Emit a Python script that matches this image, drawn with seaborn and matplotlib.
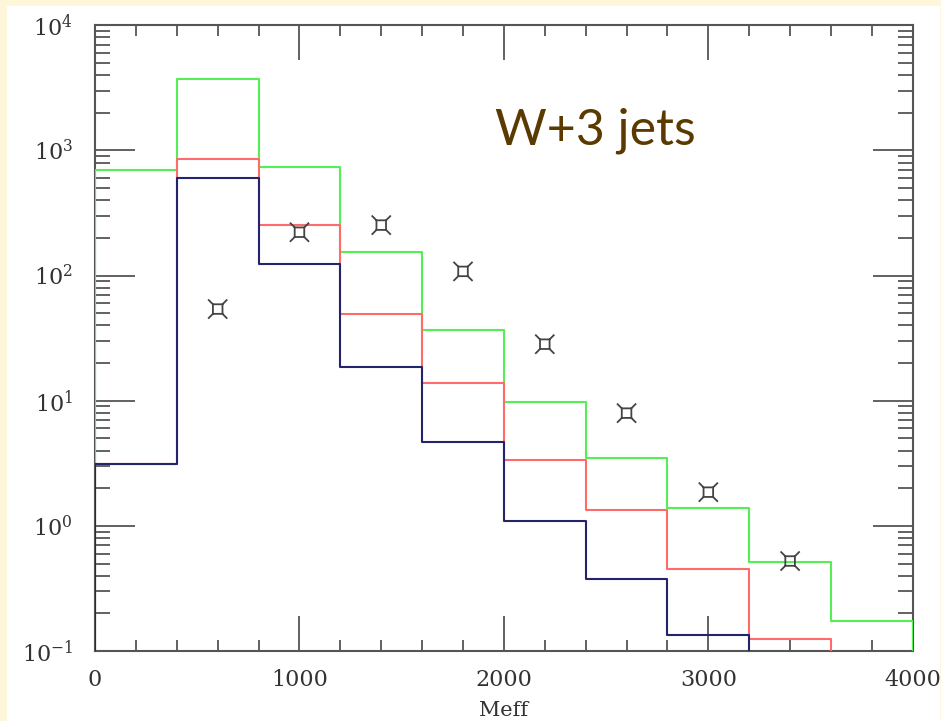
import matplotlib.pyplot as plt
import matplotlib.ticker as mticker
from matplotlib.path import Path
import seaborn as sns
import pandas as pd
import numpy as np

# bins of Meff (empty bins outside 0-4000 so the outer edges get drawn)
bin_edges = [-400, 0, 400, 800, 1200, 1600, 2000, 2400, 2800, 3200, 3600, 4000, 4400]
bin_centers = [-200, 200, 600, 1000, 1400, 1800, 2200, 2600, 3000, 3400, 3800, 4200]

green_vals = [0, 700, 3700, 735, 154, 36.6, 9.75, 3.48, 1.40, 0.516, 0.175, 0]
red_vals = [0, 3.15, 851, 253, 49.2, 13.8, 3.36, 1.34, 0.452, 0.125, 0, 0]
blue_vals = [0, 3.12, 600, 123, 18.5, 4.67, 1.09, 0.376, 0.134, 0, 0, 0]

data_x = [600, 1000, 1400, 1800, 2200, 2600, 3000, 3400]
data_y = [54, 222, 253, 108, 28.3, 7.96, 1.86, 0.524]

df = pd.DataFrame({"Meff": bin_centers, "green": green_vals,
                   "red": red_vals, "blue": blue_vals})
pts = pd.DataFrame({"Meff": data_x, "N": data_y})

sns.set_theme(style="ticks")
plt.rcParams["mathtext.fontset"] = "dejavuserif"

fig = plt.figure(figsize=(9.41, 7.21), dpi=100, facecolor="#fdf6d8")
fig.patches.append(plt.Rectangle((7 / 941, 0), 932 / 941, 715 / 721,
                                 transform=fig.transFigure, color="white", zorder=-1))
ax = fig.add_axes([0.101, 0.097, 0.869, 0.868])
ax.set_zorder(2)
ax.set_yscale("log")

for col, c in [("green", "#55ee55"), ("red", "#ff6a6a"), ("blue", "#23236e")]:
    sns.histplot(data=df, x="Meff", weights=col, bins=bin_edges, element="step",
                 fill=False, color=c, linewidth=1.5, ax=ax, zorder=3)

# square with corner spikes
verts = [(-0.5, -0.5), (0.5, -0.5), (0.5, 0.5), (-0.5, 0.5), (-0.5, -0.5),
         (-0.5, -0.5), (-1, -1), (0.5, -0.5), (1, -1),
         (0.5, 0.5), (1, 1), (-0.5, 0.5), (-1, 1)]
codes = [Path.MOVETO, Path.LINETO, Path.LINETO, Path.LINETO, Path.CLOSEPOLY,
         Path.MOVETO, Path.LINETO, Path.MOVETO, Path.LINETO,
         Path.MOVETO, Path.LINETO, Path.MOVETO, Path.LINETO]
star = Path(verts, codes)
sns.scatterplot(data=pts, x="Meff", y="N", marker=star, s=190, facecolor="none",
                edgecolor="#444444", linewidth=1.3, ax=ax, zorder=5)

ax.set_xlim(0, 4000)
ax.set_ylim(0.1, 1e4)
ax.xaxis.set_major_locator(mticker.MultipleLocator(1000))
ax.xaxis.set_minor_locator(mticker.MultipleLocator(200))
ax.yaxis.set_major_locator(mticker.LogLocator(base=10, numticks=10))
ax.yaxis.set_minor_locator(mticker.LogLocator(base=10, subs=np.arange(2, 10), numticks=20))
ax.yaxis.set_minor_formatter(mticker.NullFormatter())

ax.tick_params(axis="both", which="both", direction="in", top=True, right=True,
               color="#555555")
ax.tick_params(axis="x", which="major", length=25, width=1.3, pad=13)
ax.tick_params(axis="x", which="minor", length=8, width=1.3)
ax.tick_params(axis="y", which="major", length=29, width=1.3, pad=16)
ax.tick_params(axis="y", which="minor", length=11, width=1.3)
for sp in ax.spines.values():
    sp.set_color("#555555")
    sp.set_linewidth(1.5)

for lab in ax.get_xticklabels() + ax.get_yticklabels():
    lab.set_fontfamily("DejaVu Serif")
    lab.set_fontsize(16)
    lab.set_color("#333333")

ax.set_xlabel("Meff", fontfamily="DejaVu Serif", fontsize=15, color="#333333", labelpad=7)
ax.set_ylabel("")

ax.text(0.489, 0.832, "W+3 jets", transform=ax.transAxes, fontfamily="Lato",
        fontsize=36, color="#5a3a00", va="center", ha="left")

fig.savefig("out.png", dpi=100)
